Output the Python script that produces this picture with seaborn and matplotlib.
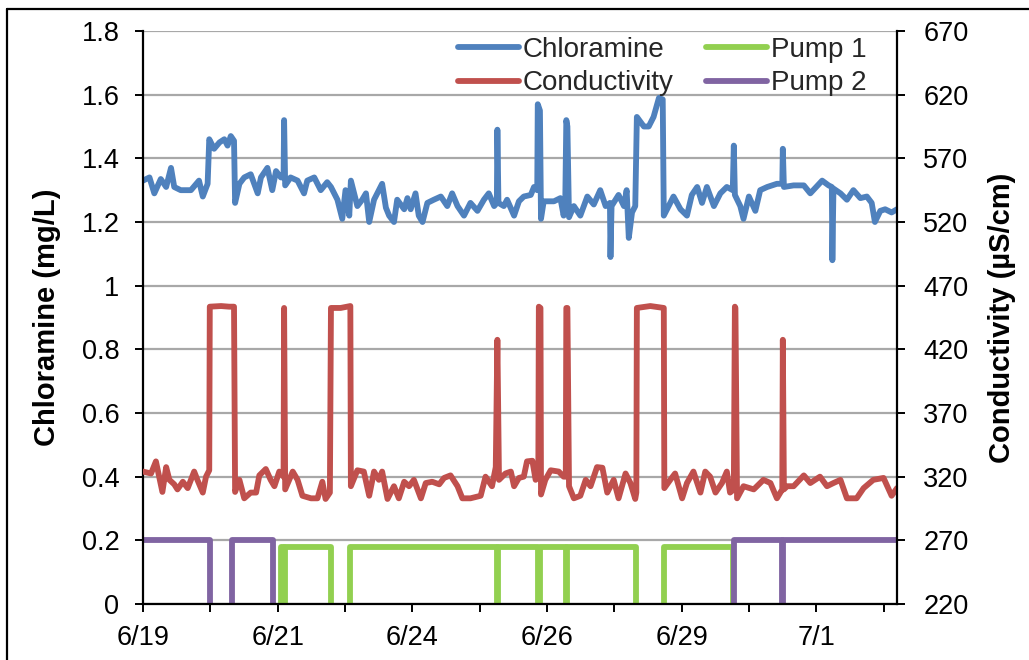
import numpy as np
import pandas as pd
import matplotlib
matplotlib.use("Agg")
import matplotlib.pyplot as plt
import seaborn as sns
from matplotlib.lines import Line2D

# ---------------- data (days since 6/19 00:00) ----------------
chl_day = [0.00, 0.12, 0.21, 0.33, 0.43, 0.52, 0.58, 0.70, 0.89, 1.04, 1.11, 1.20,
           1.23, 1.32, 1.42, 1.51, 1.57, 1.63, 1.69, 1.71, 1.79, 1.88, 2.00, 2.13,
           2.19, 2.31, 2.40, 2.47, 2.56, 2.61, 2.62, 2.64, 2.74, 2.87, 2.99, 3.05,
           3.18, 3.30, 3.42, 3.49, 3.61, 3.70, 3.76, 3.83, 3.86, 3.98, 4.07, 4.14,
           4.20, 4.29, 4.35, 4.44, 4.51, 4.57, 4.66, 4.72, 4.85, 4.91, 4.97, 5.06,
           5.12, 5.19, 5.28, 5.40, 5.53, 5.65, 5.74, 5.84, 5.96, 6.08, 6.21, 6.33,
           6.42, 6.52, 6.57, 6.58, 6.60, 6.70, 6.76, 6.89, 6.98, 7.07, 7.20, 7.26,
           7.32, 7.33, 7.37, 7.39, 7.44, 7.63, 7.75, 7.81, 7.84, 7.86, 7.88, 7.91,
           8.00, 8.12, 8.25, 8.37, 8.49, 8.59, 8.67, 8.68, 8.70, 8.83, 8.93, 8.98,
           9.02, 9.08, 9.14, 9.17, 9.30, 9.39, 9.48, 9.58, 9.65, 9.67, 9.79, 9.85,
           9.98, 10.10, 10.19, 10.29, 10.38, 10.47, 10.60, 10.72, 10.84, 10.95, 10.97, 10.99,
           11.09, 11.15, 11.25, 11.37, 11.46, 11.59, 11.77, 11.87, 11.88, 11.90, 12.08, 12.27,
           12.39, 12.61, 12.73, 12.79, 12.80, 12.82, 12.95, 13.07, 13.19, 13.32, 13.44, 13.53,
           13.59, 13.69, 13.78, 13.90, 14.00]
chl_val = [1.33, 1.34, 1.29, 1.335, 1.31, 1.37, 1.31, 1.30, 1.30, 1.33, 1.28, 1.32,
           1.46, 1.43, 1.45, 1.46, 1.44, 1.47, 1.455, 1.26, 1.32, 1.34, 1.35, 1.29,
           1.34, 1.37, 1.30, 1.36, 1.34, 1.34, 1.52, 1.315, 1.34, 1.33, 1.29, 1.33,
           1.34, 1.30, 1.325, 1.31, 1.27, 1.21, 1.30, 1.22, 1.33, 1.25, 1.27, 1.29,
           1.20, 1.27, 1.29, 1.32, 1.245, 1.22, 1.20, 1.27, 1.24, 1.275, 1.24, 1.29,
           1.22, 1.20, 1.26, 1.27, 1.28, 1.25, 1.29, 1.25, 1.22, 1.26, 1.235, 1.27,
           1.29, 1.25, 1.26, 1.49, 1.26, 1.25, 1.27, 1.22, 1.265, 1.28, 1.285, 1.31,
           1.30, 1.57, 1.55, 1.21, 1.265, 1.265, 1.275, 1.22, 1.26, 1.52, 1.50, 1.215,
           1.25, 1.22, 1.28, 1.255, 1.30, 1.25, 1.26, 1.09, 1.25, 1.285, 1.25, 1.30,
           1.15, 1.23, 1.25, 1.53, 1.50, 1.50, 1.53, 1.59, 1.585, 1.22, 1.26, 1.28,
           1.24, 1.22, 1.285, 1.31, 1.26, 1.31, 1.25, 1.29, 1.31, 1.30, 1.44, 1.285,
           1.25, 1.21, 1.28, 1.235, 1.30, 1.31, 1.32, 1.32, 1.43, 1.31, 1.315, 1.315,
           1.29, 1.33, 1.315, 1.31, 1.08, 1.305, 1.29, 1.27, 1.30, 1.275, 1.28, 1.26,
           1.20, 1.235, 1.24, 1.23, 1.24]

cond_day = [0.00, 0.15, 0.24, 0.30, 0.36, 0.43, 0.49, 0.58, 0.64, 0.74, 0.83, 0.95,
            1.01, 1.11, 1.17, 1.23, 1.24, 1.45, 1.60, 1.69, 1.71, 1.79, 1.88, 2.00,
            2.10, 2.16, 2.28, 2.37, 2.44, 2.53, 2.61, 2.62, 2.64, 2.78, 2.87, 2.96,
            3.12, 3.24, 3.33, 3.39, 3.47, 3.49, 3.67, 3.85, 3.86, 3.98, 4.10, 4.20,
            4.29, 4.38, 4.44, 4.54, 4.66, 4.75, 4.85, 4.94, 5.03, 5.16, 5.25, 5.37,
            5.50, 5.59, 5.71, 5.84, 5.93, 6.08, 6.27, 6.36, 6.48, 6.55, 6.58, 6.61,
            6.73, 6.83, 6.89, 6.98, 7.07, 7.13, 7.23, 7.29, 7.34, 7.35, 7.38, 7.39,
            7.47, 7.57, 7.72, 7.81, 7.85, 7.86, 7.88, 7.91, 8.00, 8.12, 8.22, 8.31,
            8.43, 8.53, 8.62, 8.74, 8.83, 8.96, 9.05, 9.14, 9.16, 9.17, 9.42, 9.67,
            9.68, 9.79, 9.88, 10.01, 10.10, 10.22, 10.35, 10.44, 10.53, 10.63, 10.75, 10.84,
            10.90, 10.97, 10.99, 11.00, 11.03, 11.15, 11.34, 11.52, 11.65, 11.77, 11.87, 11.88,
            11.90, 11.96, 12.08, 12.27, 12.39, 12.57, 12.70, 12.82, 12.95, 13.07, 13.25, 13.38,
            13.56, 13.75, 13.90, 14.00]
cond_val = [324, 322.5, 332, 320, 308, 327.5, 317.5, 314, 310, 316, 311, 324,
            317.5, 307.5, 320, 325, 453.5, 454, 453.5, 453.5, 308, 317.5, 303, 307.5,
            307.5, 321, 326, 317.5, 312.5, 324, 320, 452.5, 310, 324, 317.5, 305,
            303, 303, 316, 302.5, 307.5, 452.5, 452.5, 454, 312.5, 325, 324, 305,
            324, 317.5, 324, 302.5, 312.5, 303, 316, 312.5, 317.5, 303, 315, 316,
            314, 319, 321, 312.5, 303, 303, 305, 320, 312.5, 327.5, 427.5, 317.5,
            322.5, 324, 312.5, 319, 320, 332, 332.5, 317.5, 320, 453.5, 452.5, 306,
            317.5, 325, 324, 320, 320, 452.5, 452.5, 312.5, 303, 305, 317.5, 312.5,
            327.5, 327, 307.5, 317.5, 303, 322.5, 315, 302.5, 307.5, 452.5, 454, 452.5,
            311, 317.5, 322.5, 303, 315, 324, 307.5, 324, 320, 307.5, 315, 324,
            307.5, 310, 453.5, 452.5, 303, 312.5, 310, 317.5, 315, 303, 310, 427.5,
            310, 312.5, 312.5, 321, 315, 320, 312.5, 315, 317.5, 303, 303, 311,
            317.5, 319, 305, 311]

# pump running periods (start/end day) and plotted level
pump1_start = [2.56, 2.64, 3.85, 6.59, 7.37, 7.87, 9.67]
pump1_end = [2.61, 3.49, 6.57, 7.34, 7.85, 9.15, 10.96]
pump1_level = 0.18
pump2_start = [0.00, 1.66, 10.97, 11.88]
pump2_end = [1.24, 2.41, 11.86, 14.00]
pump2_level = 0.20

x_tick_labels = ["6/19", "6/21", "6/24", "6/26", "6/29", "7/1"]
left_ticks = [0, 0.2, 0.4, 0.6, 0.8, 1, 1.2, 1.4, 1.6, 1.8]
right_ticks = [220, 270, 320, 370, 420, 470, 520, 570, 620, 670]

XMIN, XMAX = 0.0, 14.0
BLUE, RED, GREEN, PURPLE = "#4F81BD", "#C0504D", "#92D050", "#8064A2"

# ---------------- style ----------------
sns.set_theme(style="white")
plt.rcParams["font.family"] = ["Liberation Sans", "DejaVu Sans"]

W, H = 1029, 660
fig = plt.figure(figsize=(W / 100, H / 100), dpi=100)
ax = fig.add_axes([143 / W, 1 - 604 / H, (897 - 143) / W, (604 - 31) / H])
ax2 = ax.twinx()

LW = 4.2
line_kw = dict(solid_capstyle="round", solid_joinstyle="round")


def pump_frame(starts, ends, level):
    rows = []
    for i, (s, e) in enumerate(zip(starts, ends)):
        pts = []
        if s > XMIN:
            pts.append((s, 0.0))
        pts += [(s, level), (e, level)]
        if e < XMAX:
            pts.append((e, 0.0))
        for d, v in pts:
            rows.append({"day": d, "val": v, "unit": i})
    return pd.DataFrame(rows)


chl_df = pd.DataFrame({"day": chl_day, "val": chl_val})
cond_df = pd.DataFrame({"day": cond_day, "val": cond_val})

sns.lineplot(data=chl_df, x="day", y="val", ax=ax, color=BLUE, lw=LW,
             sort=False, estimator=None, legend=False, **line_kw)
sns.lineplot(data=pump_frame(pump1_start, pump1_end, pump1_level), x="day", y="val",
             units="unit", estimator=None, sort=False, ax=ax, color=GREEN, lw=LW,
             legend=False, **line_kw)
sns.lineplot(data=pump_frame(pump2_start, pump2_end, pump2_level), x="day", y="val",
             units="unit", estimator=None, sort=False, ax=ax, color=PURPLE, lw=LW,
             legend=False, **line_kw)
sns.lineplot(data=cond_df, x="day", y="val", ax=ax2, color=RED, lw=LW,
             sort=False, estimator=None, legend=False, **line_kw)

# ---------------- axes ----------------
ax.set_xlim(XMIN, XMAX)
ax.set_ylim(0, 1.8)
ax2.set_ylim(220, 670)

ax.set_yticks(left_ticks)
ax.set_yticklabels([f"{v:g}" for v in left_ticks])
ax2.set_yticks(right_ticks)
ax2.set_yticklabels([str(v) for v in right_ticks])

all_ticks = np.arange(0, 14, 1.25)
ax.set_xticks(all_ticks[::2])
ax.set_xticklabels(x_tick_labels)
ax.set_xticks(all_ticks[1::2], minor=True)

ax.yaxis.grid(True, color="#A8A8A8", lw=1.6)
ax.xaxis.grid(False)
ax.set_axisbelow(True)
ax2.grid(False)

for a in (ax, ax2):
    for s in a.spines.values():
        s.set_visible(False)
ax.spines["left"].set_visible(True)
ax.spines["bottom"].set_visible(True)
ax2.spines["right"].set_visible(True)
for s in (ax.spines["left"], ax.spines["bottom"], ax2.spines["right"]):
    s.set_color("black")
    s.set_linewidth(1.6)
    s.set_zorder(5)

FS = 19.5
ax.tick_params(axis="both", which="both", direction="out", length=6, width=1.4,
               color="black", labelsize=FS, labelcolor="black", left=True, bottom=True)
ax.tick_params(axis="y", pad=11)
ax.tick_params(axis="x", pad=9)
ax2.tick_params(axis="y", direction="out", length=6, width=1.4, color="black",
                labelsize=FS, labelcolor="black", right=True, pad=13)

ax.set_xlabel("")
ax.set_ylabel("Chloramine (mg/L)", fontsize=21, fontweight="bold", color="black")
ax2.set_ylabel("Conductivity (µS/cm)", fontsize=21, fontweight="bold", color="black")
ax.yaxis.set_label_coords((61 - 143) / 754, 0.5)
ax2.yaxis.set_label_coords((988 - 143) / 754, 0.5)

# ---------------- legend ----------------
handles = [Line2D([], [], color=c, lw=LW, solid_capstyle="round") for c in (BLUE, RED, GREEN, PURPLE)]
labels = ["Chloramine", "Conductivity", "Pump 1", "Pump 2"]
ax2.legend(handles, labels, ncol=2, loc="upper right", bbox_to_anchor=(0.96, 0.99),
           frameon=False, fontsize=20, handlelength=2.2, handletextpad=0.15,
           columnspacing=1.15, labelspacing=0.27, borderpad=0.0, borderaxespad=0.0)

# outer chart frame (left and top edges visible)
fx, fy = 7 / W, 1 - 9 / H
fig.add_artist(Line2D([fx, fx], [0, fy], transform=fig.transFigure, color="black", lw=1.6))
fig.add_artist(Line2D([fx, 1], [fy, fy], transform=fig.transFigure, color="black", lw=1.6))

fig.savefig("out.png", dpi=100)
